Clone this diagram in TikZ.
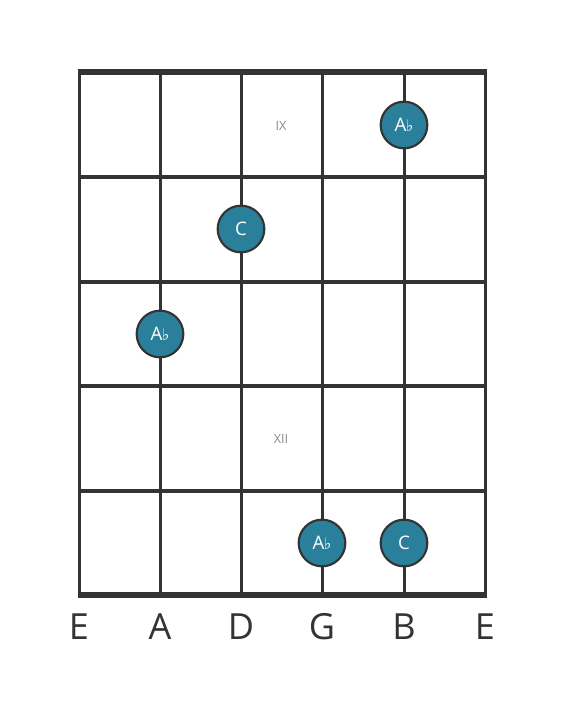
\documentclass[tikz,border=0pt]{standalone}
\usepackage{fontspec}
\setmainfont{Open Sans}
\newfontfamily\symfont{DejaVu Sans}
\definecolor{gridc}{HTML}{333333}
\definecolor{dotc}{HTML}{2A809B}
\definecolor{fretlbl}{HTML}{8A8A8A}
\newcommand{\flatsign}{\kern-0.3pt{\symfont\fontsize{12}{14}\selectfont ♭}}
\begin{document}
\begin{tikzpicture}[x=0.75pt,y=-0.75pt,
  stringline/.style={draw=gridc,line width=2.25pt},
  fretline/.style={draw=gridc,line width=3pt},
  notedot/.style={circle,fill=dotc,draw=gridc,line width=1.6pt,minimum size=35pt,inner sep=0pt,text=white,font=\fontsize{14}{16}\selectfont},
  strlabel/.style={font=\fontsize{27}{30}\selectfont,text=gridc},
  fretlabel/.style={font=\fontsize{9.5}{11}\selectfont,text=fretlbl}]
\useasboundingbox (0,0) rectangle (566,711);
\fill[white] (0,0) rectangle (566,711);
% strings
\foreach \x/\n in {79/s1,160/s2,241/s3,322/s4,404/s5,485/s6}{
  \coordinate (\n t) at (\x,72);
  \coordinate (\n b) at (\x,595);
  \draw[stringline] (\n t) -- (\n b);
}
% frets
\foreach \y/\n in {177/f1,282/f2,386/f3,491/f4}{
  \coordinate (\n l) at (78,\y);
  \coordinate (\n r) at (486,\y);
  \draw[fretline] (\n l) -- (\n r);
}
\coordinate (nutl) at (77.5,72);
\coordinate (nutr) at (486.5,72);
\coordinate (endl) at (77.5,595);
\coordinate (endr) at (486.5,595);
\draw[draw=gridc,line width=3.8pt] (nutl) -- (nutr);
\draw[draw=gridc,line width=3.8pt] (endl) -- (endr);
% fret labels
\node[fretlabel] (ix) at (281,126) {IX};
\node[fretlabel] (xii) at (281,439) {XII};
% dots
\node[notedot] (d1) at (404,125) {A\flatsign};
\node[notedot] (d2) at (241,229) {C};
\node[notedot] (d3) at (160,334) {A\flatsign};
\node[notedot] (d4) at (322,543) {A\flatsign};
\node[notedot] (d5) at (404,543) {C};
% string labels
\foreach \x/\l/\n in {79/E/l1,160/A/l2,241/D/l3,322/G/l4,404/B/l5,485/E/l6}{
  \node[strlabel,anchor=base] (\n) at (\x,639) {\l};
}
\end{tikzpicture}
\end{document}
